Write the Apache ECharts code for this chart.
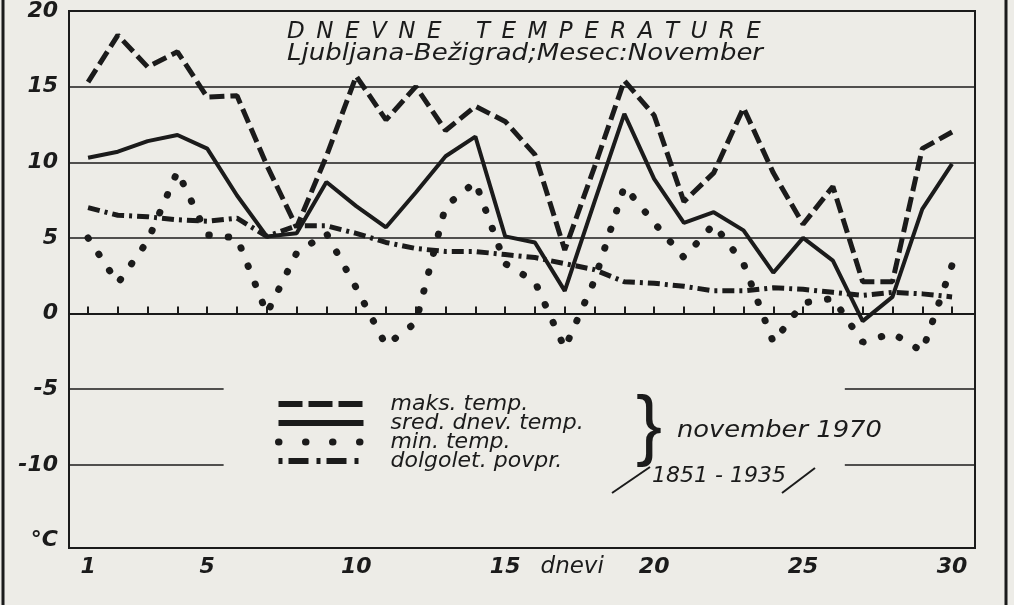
<!DOCTYPE html>
<html>
<head>
<meta charset="utf-8">
<title>Dnevne temperature</title>
<script src="https://cdn.jsdelivr.net/npm/echarts@6/dist/echarts.min.js"></script>
<style>
	html, body { margin: 0; padding: 0; background: #edece7; }
	#chart { width: 1014px; height: 605px; }
</style>
</head>
<body>
<div id="chart"></div>
<script>
// dnevi v mesecu
var days = [];
for (var i = 1; i <= 30; i ++) {
	days.push(i);
}
// maks. temp. (november 1970)
var maks = [15.3, 18.4, 16.3, 17.3, 14.3, 14.4, 9.8, 5.7, 10.4, 15.7, 12.8, 15.0, 12.1, 13.7, 12.7,
	10.5, 4.2, 9.7, 15.4, 13.1, 7.4, 9.3, 13.6, 9.3, 5.9, 8.4, 2.1, 2.1, 10.9, 12.0];
// sred. dnev. temp.
var sred = [10.3, 10.7, 11.4, 11.8, 10.9, 7.8, 5.1, 5.3, 8.7, 7.1, 5.7, 8.0, 10.4, 11.7, 5.1,
	4.7, 1.5, 7.4, 13.2, 8.9, 6.0, 6.7, 5.5, 2.7, 5.0, 3.5, -0.5, 1.1, 6.9, 9.9];
// min. temp.
var mini = [5.0, 2.0, 4.8, 9.4, 5.2, 5.0, 0.0, 4.0, 5.3, 1.7, -2.1, -0.6, 7.1, 8.7, 3.3,
	2.1, -2.3, 2.2, 8.4, 6.0, 3.7, 5.9, 3.3, -1.9, 0.7, 1.0, -1.9, -1.3, -2.5, 3.2];
// dolgoletno povprecje 1851-1935
var dolg = [7.0, 6.5, 6.4, 6.2, 6.1, 6.3, 5.1, 5.8, 5.8, 5.3, 4.7, 4.3, 4.1, 4.1, 3.9,
	3.7, 3.3, 2.9, 2.1, 2.0, 1.8, 1.5, 1.5, 1.7, 1.6, 1.4, 1.2, 1.4, 1.3, 1.1];

var xLabels = [1, 5, 10, 15, 17.25, 20, 25, 30];
var yLabels = [20, 15, 10, 5, 0, -5, -10, -15];
var fullLines = [15, 10, 5, 0];
var shortLines = [-5, -10];

var X_MIN = 0.36, X_MAX = 30.77;
var INK = "#1b1b1b";
var FONT = "DejaVu Sans";
var SP = "\u2002"; // razmik med crkami naslova

function pairs(xs, ys) {
	var out = [];
	for (var i = 0; i < xs.length; i ++) {
		out.push([xs[i], ys[i]]);
	}
	return out;
}

function spaced(word) {
	return word.split("").join(SP);
}

// vodoravne crte (pri -5 in -10 prekinjene zaradi legende)
var gridMarks = [];
fullLines.forEach(function (v) {
	gridMarks.push({ yAxis: v });
});
shortLines.forEach(function (v) {
	gridMarks.push([{ coord: [X_MIN, v] }, { coord: [5.55, v] }]);
	gridMarks.push([{ coord: [26.4, v] }, { coord: [X_MAX, v] }]);
});

var styleMaks = { color: INK, width: 5, type: [15, 6] };
var styleSred = { color: INK, width: 4, type: "solid" };
var styleMin = { color: INK, width: 7, type: [0.5, 19], cap: "round" };
var styleDolg = { color: INK, width: 5, type: [12, 5, 3, 5] };

var myChart = echarts.init(document.getElementById("chart"));
var options = {
	backgroundColor: "#edece7",
	animation: false,
	color: [INK],
	textStyle: { fontFamily: FONT, color: INK },
	grid: {
		left: 69,
		right: 39,
		top: 10,
		bottom: 57,
		show: true,
		borderColor: INK,
		borderWidth: 2,
	},
	legend: {
		orient: "vertical",
		left: 270,
		top: 388,
		itemWidth: 85,
		itemHeight: 14,
		itemGap: -3,
		itemStyle: { opacity: 0 },
		data: [
			{ name: "maks. temp.", lineStyle: { color: INK, width: 6, type: [24, 6] } },
			{ name: "sred. dnev. temp.", lineStyle: { color: INK, width: 6, type: "solid" } },
			{ name: "min. temp.", lineStyle: { color: INK, width: 7, type: [0.5, 26.5], cap: "round" } },
			{ name: "dolgolet. povpr.", lineStyle: { color: INK, width: 6, type: [4, 6, 20, 8] } },
		],
		textStyle: {
			fontFamily: FONT,
			fontStyle: "italic",
			fontSize: 22,
			lineHeight: 17,
			color: INK,
			padding: [0, 0, 0, 22],
		},
	},
	xAxis: {
		type: "value",
		min: X_MIN,
		max: X_MAX,
		axisLine: { show: true, lineStyle: { color: INK, width: 2 } },
		axisTick: {
			show: true,
			inside: true,
			length: 7,
			customValues: days,
			lineStyle: { color: INK, width: 2 },
		},
		axisLabel: {
			customValues: xLabels,
			margin: 8,
			fontFamily: FONT,
			fontStyle: "italic",
			fontWeight: "bold",
			fontSize: 22,
			color: INK,
			formatter: function (v) {
				return v === 17.25 ? "{n|dnevi}" : String(v);
			},
			rich: {
				n: { fontFamily: FONT, fontStyle: "italic", fontWeight: "normal", fontSize: 23, color: INK },
			},
		},
		splitLine: { show: false },
	},
	yAxis: {
		type: "value",
		min: -15.5,
		max: 20,
		axisLine: { show: true, lineStyle: { color: INK, width: 2 } },
		axisTick: { show: false },
		axisLabel: {
			customValues: yLabels,
			margin: 11,
			fontFamily: FONT,
			fontStyle: "italic",
			fontWeight: "bold",
			fontSize: 22,
			color: INK,
			formatter: function (v) {
				return v === -15 ? "°C" : String(v);
			},
		},
		splitLine: { show: false },
	},
	graphic: [
		{ type: "line", shape: { x1: 3, y1: 0, x2: 3, y2: 605 }, style: { stroke: INK, lineWidth: 3 } },
		{ type: "line", shape: { x1: 1006, y1: 0, x2: 1006, y2: 605 }, style: { stroke: INK, lineWidth: 3 } },
		{
			type: "text", left: 287, top: 21,
			style: { text: spaced("DNEVNE") + "\u2003" + SP + spaced("TEMPERATURE"), font: "italic 23px " + FONT, fill: INK },
		},
		{
			type: "text", left: 287, top: 43, scaleX: 1.13,
			style: { text: "Ljubljana-Bežigrad;Mesec:November", font: "italic 23px " + FONT, fill: INK },
		},
		{
			type: "text", left: 636, top: 390,
			style: { text: "}", font: "78px 'Liberation Sans'", fill: INK },
		},
		{
			type: "text", left: 677, top: 420, scaleX: 1.12,
			style: { text: "november 1970", font: "italic 23px " + FONT, fill: INK },
		},
		{ type: "line", shape: { x1: 612, y1: 493, x2: 650, y2: 467 }, style: { stroke: INK, lineWidth: 2 } },
		{
			type: "text", left: 652, top: 465,
			style: { text: "1851 - 1935", font: "italic 22px " + FONT, fill: INK },
		},
		{ type: "line", shape: { x1: 782, y1: 493, x2: 815, y2: 468 }, style: { stroke: INK, lineWidth: 2 } },
	],
	series: [
		{
			name: "maks. temp.",
			type: "line",
			data: pairs(days, maks),
			symbol: "none",
			itemStyle: { color: INK },
			lineStyle: styleMaks,
			z: 4,
		},
		{
			name: "sred. dnev. temp.",
			type: "line",
			data: pairs(days, sred),
			symbol: "none",
			itemStyle: { color: INK },
			lineStyle: styleSred,
			z: 4,
		},
		{
			name: "min. temp.",
			type: "line",
			data: pairs(days, mini),
			symbol: "none",
			itemStyle: { color: INK },
			lineStyle: styleMin,
			z: 4,
		},
		{
			name: "dolgolet. povpr.",
			type: "line",
			data: pairs(days, dolg),
			symbol: "none",
			itemStyle: { color: INK },
			lineStyle: styleDolg,
			z: 4,
		},
		{
			// samo vodoravne crte
			type: "line",
			data: [],
			silent: true,
			markLine: {
				silent: true,
				symbol: ["none", "none"],
				label: { show: false },
				lineStyle: { color: INK, width: 1.5, type: "solid" },
				data: gridMarks,
			},
			z: 1,
		},
	],
};
myChart.setOption(options);
</script>
</body>
</html>
